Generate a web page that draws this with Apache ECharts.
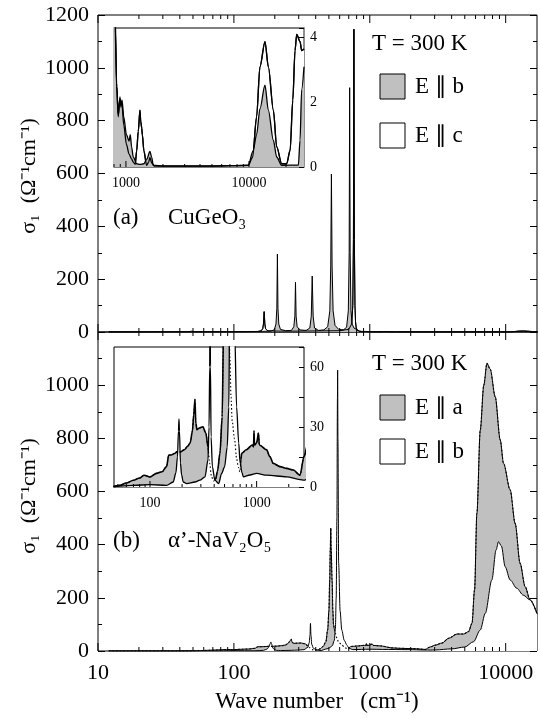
<!DOCTYPE html>
<html><head><meta charset="utf-8">
<script src="https://cdn.jsdelivr.net/npm/echarts@6/dist/echarts.min.js"></script>
<style>html,body{margin:0;padding:0;background:#fff}#c{width:540px;height:719px}</style>
</head><body><div id="c"></div>
<script>
// ---- DATA (wave number cm^-1, sigma_1) ----
// CuGeO3, E || b (grey)
const cuB = [[12,0],[45,0.5],[49,3],[53,0.5],[100,1],[150,2],[185,3],[198,8],[204,30],[207,90],[209,295],[211,90],[214,30],[220,10],[240,5],[265,6],[276,20],[281,60],[284,188],[287,60],[292,20],[305,8],[340,6],[362,15],[371,60],[377,212],[383,60],[392,15],[420,6],[460,8],[490,20],[508,80],[516,250],[522,598],[528,250],[537,80],[555,25],[590,10],[640,8],[675,18],[695,80],[705,300],[711,925],[717,300],[727,80],[742,30],[765,15],[785,12],[800,10],[815,5],[840,2.6],[866,1.55],[894,2.17],[910,1.85],[930,2.07],[960,1.55],[1010,1.0],[1060,0.8],[1085,1.0],[1112,0.62],[1147,0.31],[1222,0.1],[1300,0.08],[1400,0.1],[1480,0.25],[1567,0.48],[1620,0.3],[1667,0.06],[2000,0.03],[5000,0.03],[9870,0.05],[10800,0.5],[11530,1.0],[12280,1.8],[13490,2.53],[14370,1.76],[15780,0.83],[16800,0.31],[18450,0.05],[25200,0.06],[26000,0.83],[26800,2.4],[28000,3.1]];
// CuGeO3, E || c (white)
const cuC = [[12,0],[100,1],[150,2],[158,4],[163,12],[165,30],[167,77],[169,30],[171,12],[178,4],[250,3],[400,4],[600,5],[700,10],[735,30],[750,100],[758,350],[764,1146],[770,350],[778,100],[785,40],[795,14],[805,8],[815,4.5],[840,2.5],[866,1.6],[894,2.1],[930,1.9],[960,1.3],[1010,0.7],[1060,0.4],[1112,0.25],[1147,0.15],[1190,0.08],[1222,0.5],[1260,1.1],[1300,1.76],[1320,1.4],[1345,1.2],[1359,1.0],[1400,0.5],[1473,0.05],[1530,0.15],[1567,0.3],[1620,0.12],[1700,0.03],[5000,0.03],[9870,0.05],[10700,0.3],[11530,1.55],[12280,3.1],[13490,3.88],[14370,3.1],[15780,1.76],[16800,0.62],[18450,0.1],[20260,0.1],[21600,0.52],[22700,2.07],[23670,3.6],[24430,4.1],[26000,3.88],[26800,3.6],[28000,3.65]];
// alpha'-NaV2O5, E || a (grey)
const naA = [[12,0],[40,0],[46,0.3],[52,0.8],[60,2],[70,3.4],[80,4.5],[88,5.9],[100,5],[115,6.8],[130,7.6],[143,10.2],[150,16],[158,16],[172,16.9],[180,17.7],[192,17.5],[210,18.6],[225,20.3],[238,22],[250,28],[257,36],[264,43.9],[269,32],[276,28.7],[294,29.6],[313,30.1],[334,27],[350,20],[362,12],[378,5],[395,3],[412,4],[430,8],[453,17],[475,35],[490,80],[500,150],[507,267],[512,380],[516,462],[520,380],[528,267],[535,150],[541,100],[550,80],[562,64],[575,45],[590,33],[620,24],[650,14],[673,10],[698,7.6],[712,14],[725,16.9],[800,18.6],[910,21],[935,20],[945,28],[955,21],[1000,22],[1040,27],[1060,21],[1241,18.6],[1330,15.2],[1432,11.8],[1656,10.2],[1911,9.3],[2207,8.5],[2549,5.9],[2780,15.2],[3040,22],[3400,30],[3810,48],[4390,64],[4910,64],[5330,73],[5650,104],[5900,229],[6140,518],[6500,831],[6900,1000],[7280,1082],[7700,1060],[8370,957],[9120,794],[9640,706],[10790,606],[11740,480],[12770,330],[13900,242],[15130,192],[17000,140]];
// alpha'-NaV2O5, E || b (white)
const naB = [[12,0],[40,0],[70,0.8],[100,1.2],[143,0.8],[165,2.5],[175,7],[181,15],[185,28],[187,34],[189,28],[193,12],[198,6],[205,2.5],[221,1.7],[264,2.5],[294,3.4],[328,5.1],[350,13.5],[358,30],[363,60],[366,104],[369,60],[374,25],[385,10],[406,3.4],[440,1.7],[470,6.8],[500,10],[530,20],[548,40],[558,80],[566,200],[573,500],[578,950],[580,1057],[583,800],[590,330],[605,150],[622,79],[649,40],[679,22],[700,12],[730,7],[750,5.1],[866,6],[1000,6.8],[1241,5.9],[1911,5.1],[2549,3.7],[2780,3.4],[3040,4],[4000,8],[5000,15],[5800,35],[6500,79],[7080,142],[7910,267],[8500,380],[8850,411],[9300,395],[9910,317],[10790,267],[12060,236],[13490,210],[15130,192],[17000,140]];

const mainXLabels = [10, 100, 1000, 10000];
const topInsetXLabels = [1000, 10000];
const botInsetXLabels = [100, 1000];
const topInsetYLabels = [0, 2, 4];
const botInsetYLabels = [0, 30, 60];
const mainYLabelsTop = [0, 200, 400, 600, 800, 1000, 1200];
const mainYLabelsBot = [0, 200, 400, 600, 800, 1000];

// ---- helpers ----
const FF = 'Liberation Serif';
function logTicks(min, max) {
  const out = [];
  for (let d = 1; d <= 1e5; d *= 10) for (let m = 1; m <= 9; m++) {
    const v = d * m; if (v >= min && v <= max) out.push([v, 0, m === 1 ? 1 : 0]);
  }
  return out;
}
function tickSeries(xi, yi, ticks, major, minor, both) {
  return {
    type: 'custom', coordinateSystem: 'cartesian2d', xAxisIndex: xi, yAxisIndex: yi,
    silent: true, clip: false, z: 20, animation: false, data: ticks, encode: {x: 0, y: 1},
    renderItem: function (params, api) {
      const cs = params.coordSys;
      const x = api.coord([api.value(0), api.value(1)])[0];
      const len = api.value(2) ? major : minor;
      const bot = cs.y + cs.height;
      const ch = [{type: 'line', shape: {x1: x, y1: bot, x2: x, y2: bot - len}, style: {stroke: '#000', lineWidth: 1}}];
      if (both) ch.push({type: 'line', shape: {x1: x, y1: cs.y, x2: x, y2: cs.y + len}, style: {stroke: '#000', lineWidth: 1}});
      return {type: 'group', children: ch};
    }
  };
}
function xAx(gi, min, max, labels, fs, margin) {
  return {
    type: 'log', logBase: 10, gridIndex: gi, min, max,
    axisLine: {show: false}, axisTick: {show: false}, splitLine: {show: false}, minorTick: {show: false},
    axisLabel: {
      show: !!labels, color: '#000', fontFamily: FF, fontSize: fs, margin: margin,
      showMaxLabel: false,
      formatter: v => { const r = Math.round(v); return labels && labels.some(l => Math.abs(l - v) < 1e-6 * l) ? String(r) : ''; }
    }
  };
}
function yAx(gi, pos, max, interval, labels, fs, margin, tl, minor) {
  return {
    type: 'value', gridIndex: gi, position: pos, min: 0, max, interval,
    axisLine: {show: false}, splitLine: {show: false},
    axisTick: {show: true, inside: true, length: tl, lineStyle: {color: '#000', width: 1}},
    minorTick: {show: !!minor, splitNumber: 2, length: minor || 0, lineStyle: {color: '#000', width: 1}},
    axisLabel: {
      show: !!labels, color: '#000', fontFamily: FF, fontSize: fs, margin: margin,
      formatter: v => (labels && labels.indexOf(Math.round(v * 1000) / 1000) >= 0) ? String(v) : ''
    }
  };
}
function areaLine(data, xi, yi, fill, lw, z, smooth) {
  return {type: 'line', data, xAxisIndex: xi, yAxisIndex: yi, symbol: 'none', showSymbol: false,
    animation: false, silent: true, z, clip: true, smooth: smooth || false, smoothMonotone: 'x',
    lineStyle: {color: '#000', width: lw}, areaStyle: {color: fill, opacity: 1}};
}
function plainLine(data, xi, yi, lw, z, dash, smooth) {
  return {type: 'line', data, xAxisIndex: xi, yAxisIndex: yi, symbol: 'none', showSymbol: false,
    animation: false, silent: true, z, clip: true, smooth: smooth || false, smoothMonotone: 'x',
    lineStyle: {color: '#000', width: lw, type: dash || 'solid'}};
}
const GREY = '#c0c0c0';
function txt(x, y, text, fs, extra) {
  return Object.assign({type: 'text', x, y, z: 100, silent: true,
    style: {text, fontFamily: FF, fontSize: fs, fill: '#000', verticalAlign: 'middle', align: 'left'}}, extra || {});
}
function box(x, y, fill) {
  return {type: 'rect', z: 100, silent: true, shape: {x, y, width: 25, height: 25},
    style: {fill, stroke: '#000', lineWidth: 1}};
}
const yTitle = 'σ₁  (Ω⁻¹cm⁻¹)';
const xTitle = 'Wave number   (cm⁻¹)';
const SM = 0.3;

const chart = echarts.init(document.getElementById('c'), null, {renderer: 'canvas'});
chart.setOption({
  backgroundColor: '#fff',
  animation: false,
  grid: [
    {left: 98, top: 15, width: 439, height: 317, show: true, borderColor: '#000', borderWidth: 1, backgroundColor: 'transparent'},
    {left: 98, top: 332, width: 439, height: 319, show: true, borderColor: '#000', borderWidth: 1, backgroundColor: 'transparent'},
    {left: 114, top: 28, width: 190, height: 139, show: true, borderColor: '#555', borderWidth: 1.3, backgroundColor: '#fff'},
    {left: 114, top: 347, width: 190, height: 140, show: true, borderColor: '#000', borderWidth: 1, backgroundColor: '#fff'}
  ],
  xAxis: [
    xAx(0, 10, 17000, null, 22, 10),
    xAx(1, 10, 17000, mainXLabels, 22, 11),
    xAx(2, 800, 28000, topInsetXLabels, 14, 9),
    xAx(3, 46, 2780, botInsetXLabels, 14, 9)
  ],
  yAxis: [
    yAx(0, 'left', 1200, 200, mainYLabelsTop, 22, 9, 7, 4),
    yAx(0, 'right', 1200, 200, null, 22, 9, 7, 4),
    yAx(1, 'left', 1200, 200, mainYLabelsBot, 22, 9, 7, 4),
    yAx(1, 'right', 1200, 200, null, 22, 9, 7, 4),
    yAx(2, 'right', 4.3, 1, topInsetYLabels, 14, 6, 5, 0),
    yAx(3, 'right', 70, 15, botInsetYLabels, 14, 6, 5, 0)
  ],
  series: [
    // CuGeO3: white E||c underneath, grey E||b on top, E||c outline redrawn
    areaLine(cuC, 0, 0, '#fff', 1, 2),
    areaLine(cuB, 0, 0, GREY, 1, 3),
    plainLine(cuC, 0, 0, 1, 4),
    areaLine(cuC, 2, 4, '#fff', 1.3, 2, SM),
    areaLine(cuB, 2, 4, GREY, 1.3, 3, SM),
    plainLine(cuC, 2, 4, 1.3, 4, null, SM),
    // NaV2O5: grey E||a underneath, white E||b on top, hidden E||a dotted
    areaLine(naA, 1, 2, GREY, 1, 2, SM),
    areaLine(naB, 1, 2, '#fff', 1, 3, SM),
    plainLine(naA, 1, 2, 1.1, 4, [1.5, 2.2], SM),
    areaLine(naA, 3, 5, GREY, 1.6, 2, SM),
    areaLine(naB, 3, 5, '#fff', 1.3, 3, SM),
    plainLine(naA, 3, 5, 1.1, 4, [1.5, 2.2], SM),
    tickSeries(0, 0, logTicks(10, 17000), 8, 4, true),
    tickSeries(1, 2, logTicks(10, 17000), 8, 4, true),
    tickSeries(2, 4, logTicks(800, 28000), 6, 3, false),
    tickSeries(3, 5, logTicks(46, 2780), 6, 3, false)
  ],
  graphic: [
    txt(372, 44, 'T = 300 K', 23),
    box(380, 74, GREY), txt(415, 87, 'E ∥ b', 23),
    box(380, 123, '#fff'), txt(415, 136, 'E ∥ c', 23),
    txt(113, 218, '(a)', 23), txt(168, 218, 'CuGeO₃', 23),
    txt(372, 364, 'T = 300 K', 23),
    box(380, 395, GREY), txt(415, 408, 'E ∥ a', 23),
    box(380, 439, '#fff'), txt(415, 452, 'E ∥ b', 23),
    txt(113, 541, '(b)', 23), txt(168, 541, 'α’-NaV₂O₅', 23),
    txt(29, 176, yTitle, 22, {rotation: Math.PI / 2, style: {text: yTitle, fontFamily: FF, fontSize: 22, fill: '#000', align: 'center', verticalAlign: 'middle'}}),
    txt(29, 496, yTitle, 22, {rotation: Math.PI / 2, style: {text: yTitle, fontFamily: FF, fontSize: 22, fill: '#000', align: 'center', verticalAlign: 'middle'}}),
    txt(317, 702, xTitle, 23, {style: {text: xTitle, fontFamily: FF, fontSize: 23, fill: '#000', align: 'center', verticalAlign: 'middle'}})
  ]
});
</script>
</body></html>
